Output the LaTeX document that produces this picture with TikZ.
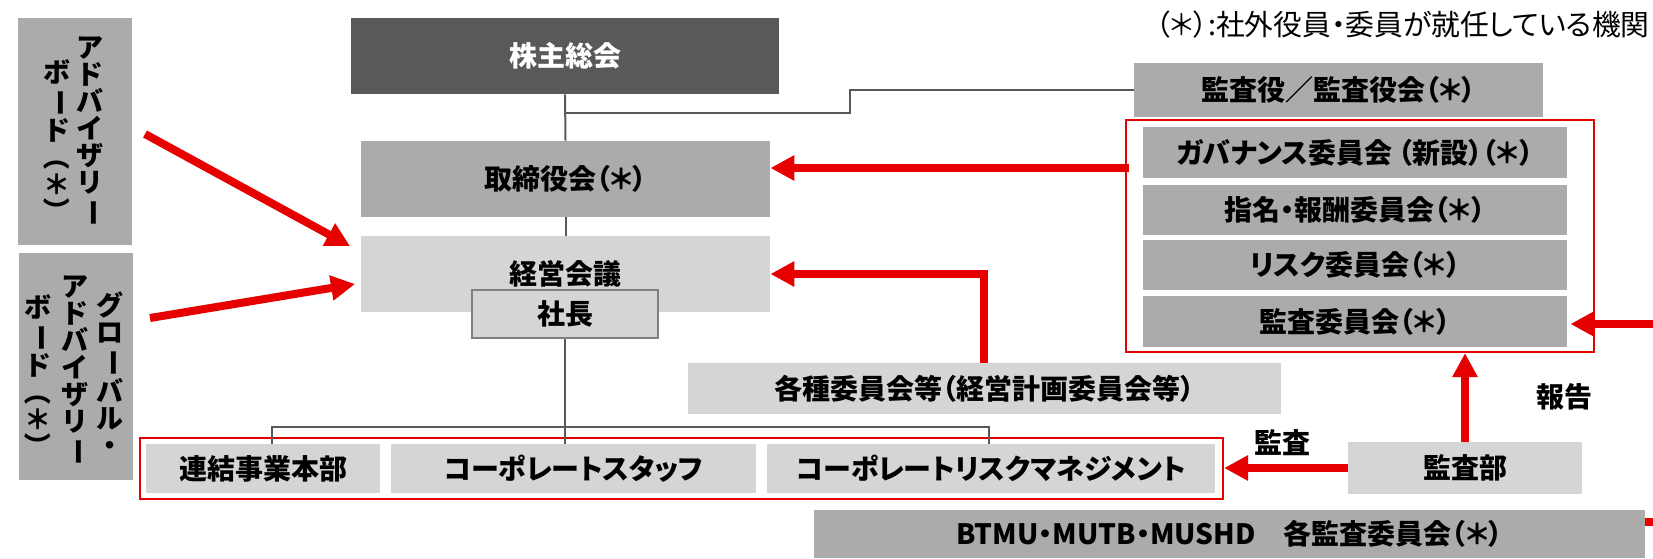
\documentclass[tikz,border=0pt]{standalone}
\usepackage{fontspec}
\usepackage{graphicx}
\setmainfont{Noto Sans CJK JP}[RawFeature=+palt]
\newfontfamily\vjp{Noto Sans CJK JP}
\usetikzlibrary{arrows.meta,calc}
\definecolor{dkgray}{HTML}{595959}
\definecolor{mdgray}{HTML}{ABABAB}
\definecolor{ltgray}{HTML}{D5D5D5}
\definecolor{myred}{HTML}{E60000}
\definecolor{lngray}{HTML}{595959}
\definecolor{bdgray}{HTML}{808080}
\newcommand\vchou{\rotatebox[origin=c]{-90}{ー}}
\newcommand\vlp{\rotatebox[origin=c]{-90}{（}}
\newcommand\vrp{\rotatebox[origin=c]{-90}{）}}
% \gbox{style}{name}{x1}{y1}{x2}{y2}{text}  (coordinates in px)
\newcommand\gbox[7]{%
  \pgfmathsetmacro\bxw{(#5-#3)*0.5}%
  \pgfmathsetmacro\bxh{(#6-#4)*0.5}%
  \node[#1, minimum width=\bxw pt, minimum height=\bxh pt] (#2) at ({(#3+#5)/2},{(#4+#6)/2}) {#7};}
\begin{document}
\begin{tikzpicture}[x=0.5pt,y=-0.5pt,
  boxbase/.style={rectangle, inner sep=0pt, font=\fontsize{14}{16}\selectfont\bfseries},
  darkbox/.style={boxbase, fill=dkgray, text=white},
  midbox/.style={boxbase, fill=mdgray},
  litbox/.style={boxbase, fill=ltgray},
  redframe/.style={rectangle, inner sep=0pt, draw=myred, line width=1.1pt},
  gline/.style={draw=lngray, line width=1pt},
  rarrow/.style={draw=myred, line width=4pt, -{Triangle[length=12pt,width=12pt]}},
  rline/.style={draw=myred, line width=4pt},
  vtext/.style={inner sep=0pt, align=center, font=\vjp\fontsize{13.5}{13.5}\selectfont\bfseries},
  lbl/.style={inner sep=0pt, font=\fontsize{14}{16}\selectfont\bfseries},
]
\useasboundingbox (0,0) rectangle (1653,558);

% left advisory boards
\gbox{midbox}{adv1}{18}{18}{132}{245}{}
\node[vtext] (adv1a) at (90,132) {ア\\ド\\バ\\イ\\ザ\\リ\\\vchou};
\node[vtext] (adv1b) at (57,142) {ボ\\\vchou\\ド\\\vlp\\＊\\\vrp};
\gbox{midbox}{adv2}{19}{253}{133}{480}{}
\node[vtext] (adv2a) at (110,374) {グ\\ロ\\\vchou\\バ\\ル\\・};
\node[vtext] (adv2b) at (75,371) {ア\\ド\\バ\\イ\\ザ\\リ\\\vchou};
\node[vtext] (adv2c) at (38,377) {ボ\\\vchou\\ド\\\vlp\\＊\\\vrp};

% central column
\gbox{darkbox}{kabu}{351}{18}{779}{94}{株主総会}
\gbox{midbox}{tori}{361}{141}{770}{217}{取締役会（＊）}
\gbox{litbox}{keiei}{361}{236}{770}{312}{経営会議}
\gbox{litbox, draw=bdgray, line width=0.9pt}{shacho}{472}{290}{658}{338}{社長}

% right column
\gbox{midbox}{kansayaku}{1134}{63}{1543}{117}{監査役／監査役会（＊）}
\gbox{redframe}{rframe}{1126}{120}{1594}{352}{}
\gbox{midbox}{gov}{1143}{127}{1567}{178}{ガバナンス委員会 （新設）（＊）}
\gbox{midbox}{shimei}{1143}{185}{1567}{235}{指名・報酬委員会（＊）}
\gbox{midbox}{risk}{1143}{240}{1567}{290}{リスク委員会（＊）}
\gbox{midbox}{kansaiin}{1143}{296}{1567}{347}{監査委員会（＊）}

\gbox{litbox}{kakushu}{688}{363}{1281}{414}{各種委員会等（経営計画委員会等）}

% bottom row
\gbox{redframe}{bframe}{140}{438}{1223}{499}{}
\gbox{litbox}{renketsu}{146}{444}{380}{493}{連結事業本部}
\gbox{litbox}{corpstaff}{391}{444}{756}{493}{コーポレートスタッフ}
\gbox{litbox}{crm}{767}{444}{1215}{493}{コーポレートリスクマネジメント}
\gbox{litbox}{kansabu}{1348}{442}{1582}{494}{監査部}
\gbox{midbox}{btmu}{814}{510}{1645}{558}{BTMU・MUTB・MUSHD\quad 各監査委員会（＊）}

% legend and labels
\node[inner sep=0pt, anchor=east, font=\fontsize{14.4}{16}\selectfont] (legend) at (1650,25) {（＊）:社外役員・委員が就任している機関};
\node[lbl] (kansalbl) at (1282,443) {監査};
\node[lbl] (hokoku) at (1564,397) {報告};

% gray connectors
\draw[gline] (kabu.south) -- (tori.north);
\coordinate (j1) at (565,113);
\coordinate (stepc) at (850,113);
\draw[gline] (j1) -- (stepc) |- (kansayaku.west);
\draw[gline] (tori.south) -- (keiei.north);
\draw[gline] (shacho.south) -- (shacho.south |- corpstaff.north);
\coordinate (bl) at (272,427);
\coordinate (br) at (989,427);
\draw[gline] (renketsu.north -| bl) -- (bl) -- (br) -- (crm.north -| br);

% red arrows
\coordinate (a1) at (145,134);
\coordinate (a1t) at (350,246);
\draw[rarrow] (a1) -- (a1t);
\coordinate (a2) at (150,318);
\coordinate (a2t) at (355,284);
\draw[rarrow] (a2) -- (a2t);
\coordinate (g1) at (1129,168);
\draw[rarrow] (g1) -- (tori.east |- g1);
\coordinate (kx) at (984,0);
\draw[rarrow] (kakushu.north -| kx) |- (keiei.east);
\draw[rarrow] (kansabu.west) -- (bframe.east |- kansabu.west);
\draw[rarrow] (kansabu.north) -- (rframe.south -| kansabu.north);
\coordinate (e1) at (1653,324);
\draw[rarrow] (e1) -- ([xshift=1.5pt]kansaiin.east |- e1);
\coordinate (e2) at (1653,522);
\draw[rline] (e2) -- (btmu.east |- e2);
\end{tikzpicture}
\end{document}
